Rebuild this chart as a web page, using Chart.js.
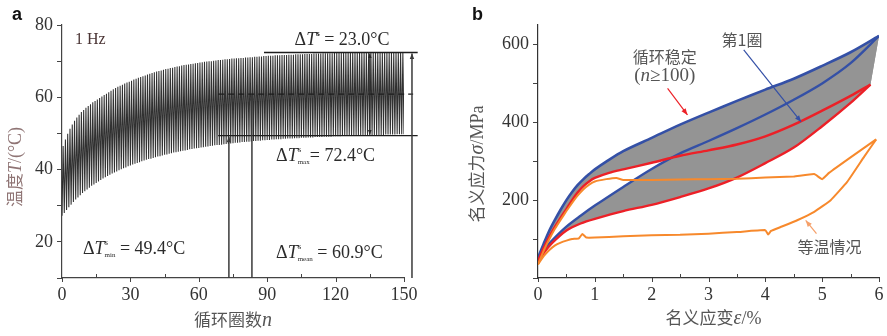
<!DOCTYPE html>
<html>
<head>
<meta charset="utf-8">
<script src="https://cdn.jsdelivr.net/npm/chart.js@4.4.1/dist/chart.umd.min.js"></script>
<style>
  body { margin: 0; background: #fff; width: 887px; height: 336px; position: relative; overflow: hidden; }
  #wrapA { position: absolute; left: 0; top: 0; width: 440px; height: 336px; }
  #wrapB { position: absolute; left: 440px; top: 0; width: 447px; height: 336px; }
</style>
</head>
<body>
<div id="wrapA"><canvas id="chartA" width="440" height="336"></canvas></div>
<div id="wrapB"><canvas id="chartB" width="447" height="336"></canvas></div>
<script>
const SERIF = '"Liberation Serif", "DejaVu Serif", serif';
const CJK = '"Noto Sans CJK SC", sans-serif';

// ---- panel a: temperature of each loading cycle (1 Hz) ----
// peak temperature reached in cycle n (n = 0..149)
const cycleTmax = [
  46.5, 48.3, 49.9, 51.3, 52.5, 53.5, 54.4, 55.2, 55.9, 56.5,
  57.1, 57.6, 58.1, 58.6, 59.0, 59.4, 59.8, 60.2, 60.6, 61.0,
  61.4, 61.8, 62.2, 62.6, 62.9, 63.2, 63.5, 63.8, 64.1, 64.3,
  64.6, 64.9, 65.1, 65.4, 65.6, 65.8, 66.0, 66.3, 66.5, 66.7,
  66.9, 67.1, 67.3, 67.4, 67.6, 67.8, 67.9, 68.1, 68.2, 68.4,
  68.5, 68.6, 68.8, 68.9, 69.0, 69.1, 69.2, 69.3, 69.4, 69.5,
  69.6, 69.7, 69.8, 69.9, 70.0, 70.0, 70.1, 70.2, 70.3, 70.3,
  70.4, 70.5, 70.5, 70.6, 70.7, 70.7, 70.8, 70.8, 70.9, 70.9,
  71.0, 71.0, 71.1, 71.1, 71.2, 71.2, 71.3, 71.3, 71.4, 71.4,
  71.5, 71.5, 71.5, 71.6, 71.6, 71.6, 71.7, 71.7, 71.7, 71.8,
  71.8, 71.8, 71.9, 71.9, 71.9, 71.9, 72.0, 72.0, 72.0, 72.0,
  72.1, 72.1, 72.1, 72.1, 72.2, 72.2, 72.2, 72.2, 72.2, 72.3,
  72.3, 72.3, 72.3, 72.3, 72.3, 72.3, 72.4, 72.4, 72.4, 72.4,
  72.4, 72.4, 72.4, 72.4, 72.4, 72.4, 72.4, 72.4, 72.4, 72.4,
  72.4, 72.4, 72.4, 72.4, 72.4, 72.4, 72.4, 72.4, 72.4, 72.4
];
// lowest temperature at the start of cycle n (n = 0..150)
const cycleTmin = [
  27.2, 28.0, 28.8, 29.6, 30.3, 31.0, 31.7, 32.3, 32.9, 33.5,
  34.0, 34.5, 35.0, 35.5, 35.9, 36.3, 36.7, 37.1, 37.5, 37.9,
  38.2, 38.6, 38.9, 39.2, 39.5, 39.8, 40.1, 40.4, 40.6, 40.9,
  41.1, 41.4, 41.6, 41.8, 42.0, 42.3, 42.5, 42.7, 42.9, 43.0,
  43.2, 43.4, 43.6, 43.7, 43.9, 44.1, 44.2, 44.4, 44.5, 44.7,
  44.8, 44.9, 45.1, 45.2, 45.3, 45.4, 45.6, 45.7, 45.8, 45.9,
  46.0, 46.1, 46.2, 46.3, 46.4, 46.5, 46.6, 46.7, 46.8, 46.8,
  46.9, 47.0, 47.1, 47.1, 47.2, 47.3, 47.4, 47.4, 47.5, 47.6,
  47.6, 47.7, 47.7, 47.8, 47.9, 47.9, 48.0, 48.0, 48.1, 48.1,
  48.2, 48.2, 48.3, 48.3, 48.4, 48.4, 48.4, 48.5, 48.5, 48.6,
  48.6, 48.6, 48.7, 48.7, 48.7, 48.8, 48.8, 48.8, 48.9, 48.9,
  48.9, 49.0, 49.0, 49.0, 49.0, 49.1, 49.1, 49.1, 49.1, 49.2,
  49.2, 49.2, 49.2, 49.3, 49.3, 49.3, 49.3, 49.4, 49.4, 49.4,
  49.4, 49.4, 49.5, 49.5, 49.5, 49.5, 49.5, 49.6, 49.6, 49.6,
  49.6, 49.6, 49.7, 49.7, 49.7, 49.7, 49.7, 49.8, 49.8, 49.8,
  49.8
];
const stableTmax = 72.4;
const stableTmin = 49.4;
const stableTmean = 60.9;
const stableSpan = 23.0;

// ---- panel b: nominal stress-strain loops ----
const blueLoadStrain   = [0, 0.1, 0.2, 0.3, 0.4, 0.5, 0.6, 0.7, 0.8, 0.9, 1.0, 1.2, 1.5, 2.0, 2.5, 3.0, 3.5, 4.0, 4.5, 5.0, 5.5, 6.0];
const blueLoadStress   = [52, 88, 122, 150, 176, 200, 221, 239, 254, 267, 279, 299, 326, 360, 394, 425, 455, 484, 512, 545, 580, 622];
const blueUnloadStrain = [6.0, 5.5, 5.0, 4.5, 4.0, 3.5, 3.0, 2.5, 2.0, 1.5, 1.0, 0.75, 0.5, 0.25, 0.1, 0];
const blueUnloadStress = [622, 552, 500, 458, 420, 385, 352, 320, 280, 234, 186, 160, 132, 97, 72, 47];

const redLoadStrain    = [0, 0.1, 0.25, 0.4, 0.5, 0.6, 0.7, 0.8, 0.9, 1.0, 1.25, 1.5, 2.0, 2.5, 3.0, 3.5, 4.0, 4.5, 5.0, 5.5, 5.85];
const redLoadStress    = [43, 78, 120, 155, 177, 200, 220, 236, 248, 257, 270, 279, 296, 314, 328, 343, 364, 394, 430, 468, 497];
const redUnloadStrain  = [5.85, 5.5, 5.0, 4.5, 4.0, 3.5, 3.0, 2.5, 2.0, 1.5, 1.0, 0.75, 0.5, 0.25, 0.1, 0];
const redUnloadStress  = [497, 450, 390, 335, 295, 258, 230, 208, 188, 172, 152, 140, 122, 90, 64, 39];

const isoLoadStrain    = [0, 0.1, 0.2, 0.3, 0.4, 0.5, 0.6, 0.7, 0.8, 0.9, 1.0, 1.2, 1.38, 1.5, 2.0, 2.5, 3.0, 3.5, 4.0, 4.5, 4.86, 5.0, 5.12, 5.5, 5.95];
const isoLoadStress    = [35, 70, 100, 127, 150, 172, 193, 212, 228, 240, 248, 254, 257, 252, 252, 253, 254, 255, 258, 261, 267, 254, 270, 310, 356];
const isoUnloadStrain  = [5.95, 5.74, 5.44, 5.15, 4.86, 4.57, 4.27, 4.1, 4.05, 4.0, 3.5, 3.0, 2.5, 2.0, 1.5, 1.0, 0.85, 0.78, 0.72, 0.6, 0.5, 0.4, 0.3, 0.2, 0.1, 0];
const isoUnloadStress  = [356, 312, 247, 200, 170, 149, 131, 121, 112, 123, 118, 114, 111, 110, 107, 104, 104, 113, 102, 100, 96, 91, 84, 72, 56, 35];

const BLUE = '#3450a6';
const RED = '#ec2027';
const ORANGE = '#f7892c';
const GRAY = '#949494';

const pairs = (xs, ys) => xs.map((x, i) => ({ x, y: ys[i] }));

// sawtooth of heating (loading) and cooling (unloading) per cycle
const tempPoints = [];
cycleTmax.forEach((hi, n) => {
  tempPoints.push({ x: n, y: cycleTmin[n] });
  tempPoints.push({ x: n + 0.5, y: hi });
});
tempPoints.push({ x: cycleTmax.length, y: cycleTmin[cycleTmax.length] });

// text with font changes, sub/superscripts
function richText(ctx, x, y, parts, align, color) {
  ctx.save();
  ctx.fillStyle = color;
  ctx.textAlign = 'left';
  ctx.textBaseline = 'alphabetic';
  let w = 0;
  for (const p of parts) {
    ctx.font = p.f;
    if (p.adv !== false) w += ctx.measureText(p.t).width;
  }
  let cx = align === 'center' ? x - w / 2 : x;
  for (const p of parts) {
    ctx.font = p.f;
    ctx.fillText(p.t, cx, y + (p.dy || 0));
    if (p.adv !== false) cx += ctx.measureText(p.t).width;
  }
  ctx.restore();
}

function arrowHead(ctx, x1, y1, x2, y2, size) {
  const a = Math.atan2(y2 - y1, x2 - x1);
  ctx.beginPath();
  ctx.moveTo(x2, y2);
  ctx.lineTo(x2 - size * Math.cos(a - 0.38), y2 - size * Math.sin(a - 0.38));
  ctx.lineTo(x2 - size * Math.cos(a + 0.38), y2 - size * Math.sin(a + 0.38));
  ctx.closePath();
  ctx.fill();
}

function arrow(ctx, x1, y1, x2, y2, color, width, size, both) {
  ctx.save();
  ctx.strokeStyle = color;
  ctx.fillStyle = color;
  ctx.lineWidth = width;
  ctx.beginPath();
  ctx.moveTo(x1, y1);
  ctx.lineTo(x2, y2);
  ctx.stroke();
  arrowHead(ctx, x1, y1, x2, y2, size);
  if (both) arrowHead(ctx, x2, y2, x1, y1, size);
  ctx.restore();
}

// short x ticks: labelled ones point down, the rest point into the plot
function xTicks(chart, every) {
  const { ctx, scales: { x }, chartArea } = chart;
  ctx.save();
  ctx.strokeStyle = '#444';
  ctx.lineWidth = 1;
  x.ticks.forEach(t => {
    const px = Math.round(x.getPixelForValue(t.value)) + 0.5;
    const major = Math.abs(t.value / every - Math.round(t.value / every)) < 1e-6;
    ctx.beginPath();
    ctx.moveTo(px, chartArea.bottom);
    ctx.lineTo(px, chartArea.bottom + (major ? 4 : -4));
    ctx.stroke();
  });
  ctx.restore();
}

const sym = size => ({ roman: size + 'px ' + SERIF, italic: 'italic ' + size + 'px ' + SERIF });
const s18 = sym(18);

function deltaT(sub, rest) {
  const parts = [
    { t: 'Δ', f: s18.roman },
    { t: 'T', f: s18.italic },
    { t: 's', f: '9px ' + SERIF, dy: -9, adv: false }
  ];
  if (sub) parts.push({ t: sub, f: '7px ' + SERIF, dy: 3 });
  else parts.push({ t: 's', f: '9px ' + SERIF, dy: -9 });
  parts.push({ t: rest, f: s18.roman });
  return parts;
}

const annotA = {
  id: 'annotA',
  afterDatasetsDraw(chart) {
    const { ctx, scales: { x, y } } = chart;
    const px = v => x.getPixelForValue(v);
    const py = v => y.getPixelForValue(v);
    const base = py(10);

    ctx.save();
    ctx.strokeStyle = '#1e1e1e';
    ctx.lineWidth = 1.4;
    ctx.beginPath();
    ctx.moveTo(px(88.6), py(stableTmax)); ctx.lineTo(px(156), py(stableTmax));
    ctx.moveTo(px(68.5), py(stableTmin)); ctx.lineTo(px(156), py(stableTmin));
    ctx.stroke();
    ctx.setLineDash([6, 4]);
    ctx.lineWidth = 1.3;
    ctx.beginPath();
    ctx.moveTo(px(68.5), py(stableTmean)); ctx.lineTo(px(154), py(stableTmean));
    ctx.stroke();
    ctx.restore();

    arrow(ctx, px(73.2), base, px(73.2), py(stableTmin) + 1, '#3a3a3a', 1.5, 6);
    arrow(ctx, px(83.3), base, px(83.3), py(stableTmean) + 1, '#3a3a3a', 1.5, 6);
    arrow(ctx, px(153.5), base, px(153.5), py(stableTmax) + 1, '#3a3a3a', 1.5, 6);
    arrow(ctx, px(135), py(stableTmin) - 1, px(135), py(stableTmax) + 1, '#2a2a2a', 1.2, 5, true);

    richText(ctx, px(102), py(74.5), deltaT(null, ' = ' + stableSpan.toFixed(1) + '°C'), 'left', '#2b2b2b');
    richText(ctx, px(93.9), py(42.4), deltaT('max', '= ' + stableTmax + '°C'), 'left', '#2b2b2b');
    richText(ctx, px(9.2), py(16.6), deltaT('min', ' = ' + stableTmin + '°C'), 'left', '#2b2b2b');
    richText(ctx, px(93.9), py(15.5), deltaT('mean', ' = ' + stableTmean + '°C'), 'left', '#2b2b2b');
    richText(ctx, px(5.7), py(74.7), [{ t: '1 Hz', f: '16px ' + SERIF }], 'left', '#4a3434');
  },
  afterDraw(chart) {
    const { ctx, chartArea } = chart;
    xTicks(chart, 30);
    richText(ctx, (chartArea.left + chartArea.right) / 2, 326,
      [{ t: '循环圈数', f: '17px ' + CJK }, { t: 'n', f: 'italic 20px ' + SERIF }], 'center', '#555');
    ctx.save();
    ctx.translate(21, 167);
    ctx.rotate(-Math.PI / 2);
    richText(ctx, 0, 0, [{ t: '温度', f: '17px ' + CJK }, { t: 'T', f: s18.italic }, { t: '/(°C)', f: s18.roman }], 'center', '#8f7474');
    ctx.restore();
    richText(ctx, 12, 20, [{ t: 'a', f: 'bold 18px "Liberation Sans", Arial, sans-serif' }], 'left', '#111');
  }
};

const bLabels = [
  { at: [3.59, 596], parts: [{ t: '第1圈', f: '16px ' + CJK }] },
  { at: [2.23, 552], parts: [{ t: '循环稳定', f: '16px ' + CJK }] },
  { at: [2.23, 506], parts: [{ t: '(', f: '19px ' + SERIF }, { t: 'n', f: 'italic 19px ' + SERIF }, { t: '≥100)', f: '19px ' + SERIF }] },
  { at: [5.13, 64], parts: [{ t: '等温情况', f: '16px ' + CJK }] }
];
const bArrows = [
  { from: [2.28, 487], to: [2.63, 419], color: RED },
  { from: [3.62, 586], to: [4.63, 401], color: BLUE },
  { from: [4.9, 114], to: [4.71, 148], color: '#f5a06a' }
];

const annotB = {
  id: 'annotB',
  afterDatasetsDraw(chart) {
    const { ctx, scales: { x, y } } = chart;
    bArrows.forEach(a => arrow(ctx, x.getPixelForValue(a.from[0]), y.getPixelForValue(a.from[1]),
      x.getPixelForValue(a.to[0]), y.getPixelForValue(a.to[1]), a.color, 1.2, 7));
    bLabels.forEach(l => richText(ctx, x.getPixelForValue(l.at[0]), y.getPixelForValue(l.at[1]), l.parts, 'center', '#555'));
  },
  afterDraw(chart) {
    const { ctx, chartArea } = chart;
    xTicks(chart, 1);
    richText(ctx, (chartArea.left + chartArea.right) / 2 + 5, 324,
      [{ t: '名义应变', f: '17px ' + CJK }, { t: 'ε', f: 'italic 20px ' + SERIF }, { t: '/%', f: s18.roman }], 'center', '#555');
    ctx.save();
    ctx.translate(43, 164);
    ctx.rotate(-Math.PI / 2);
    richText(ctx, 0, 0, [{ t: '名义应力', f: '17px ' + CJK }, { t: 'σ', f: 'italic 20px ' + SERIF }, { t: '/MPa', f: s18.roman }], 'center', '#555');
    ctx.restore();
    richText(ctx, 32, 20, [{ t: 'b', f: 'bold 18px "Liberation Sans", Arial, sans-serif' }], 'left', '#111');
  }
};

const tickFont = { family: SERIF, size: 18 };

new Chart(document.getElementById('chartA'), {
  type: 'scatter',
  data: {
    datasets: [{
      data: tempPoints,
      showLine: true,
      borderColor: 'rgba(20,20,20,0.88)',
      borderWidth: 1.05,
      pointRadius: 0,
      tension: 0
    }]
  },
  options: {
    responsive: false,
    animation: false,
    layout: { padding: { left: 0, top: 25, right: 36, bottom: 0 } },
    plugins: { legend: { display: false }, tooltip: { enabled: false } },
    scales: {
      x: {
        type: 'linear', min: 0, max: 150,
        afterFit: s => { s.height = 58; },
        grid: { display: false },
        border: { color: '#444', width: 1.2 },
        ticks: { stepSize: 15, padding: -2, color: '#333', font: tickFont, maxRotation: 0, autoSkip: false,
          callback: v => v % 30 === 0 ? v : '' }
      },
      y: {
        min: 10, max: 80,
        afterFit: s => { s.width = 62; },
        grid: { drawOnChartArea: false, tickLength: 5, color: '#444' },
        border: { color: '#444', width: 1.2 },
        ticks: { stepSize: 10, padding: 4, color: '#333', font: tickFont,
          callback: v => v % 20 === 0 && v > 0 ? v : '' }
      }
    }
  },
  plugins: [annotA]
});

const curve = (xs, ys, color, width, tension) => ({
  data: pairs(xs, ys), showLine: true, borderColor: color, borderWidth: width,
  pointRadius: 0, fill: false, tension
});
// grey bands swept by the intermediate cycles
const band = pts => ({
  data: pts, showLine: true, borderWidth: 0, borderColor: 'rgba(0,0,0,0)',
  backgroundColor: GRAY, pointRadius: 0, fill: 'shape', tension: 0
});

new Chart(document.getElementById('chartB'), {
  type: 'scatter',
  data: {
    datasets: [
      curve(isoLoadStrain, isoLoadStress, ORANGE, 2, 0.1),
      curve(isoUnloadStrain, isoUnloadStress, ORANGE, 2, 0.1),
      curve(redLoadStrain, redLoadStress, RED, 2.4, 0.3),
      curve(redUnloadStrain, redUnloadStress, RED, 2.4, 0.3),
      curve(blueLoadStrain, blueLoadStress, BLUE, 2.6, 0.3),
      curve(blueUnloadStrain, blueUnloadStress, BLUE, 2.4, 0.3),
      band(pairs(blueLoadStrain, blueLoadStress).concat(pairs(redLoadStrain, redLoadStress).reverse())),
      band(pairs(blueUnloadStrain, blueUnloadStress).concat(pairs(redUnloadStrain, redUnloadStress).reverse()))
    ]
  },
  options: {
    responsive: false,
    animation: false,
    layout: { padding: { left: 0, top: 25, right: 8, bottom: 0 } },
    plugins: { legend: { display: false }, tooltip: { enabled: false } },
    scales: {
      x: {
        type: 'linear', min: 0, max: 6,
        afterFit: s => { s.height = 58; },
        grid: { display: false },
        border: { color: '#333', width: 1.2 },
        ticks: { stepSize: 0.5, padding: -2, color: '#333', font: tickFont, maxRotation: 0, autoSkip: false,
          callback: v => Number.isInteger(v) ? v : '' }
      },
      y: {
        min: 0, max: 650,
        afterFit: s => { s.width = 98; },
        grid: { drawOnChartArea: false, tickLength: 5, color: '#444' },
        border: { color: '#333', width: 1.2 },
        ticks: { stepSize: 100, includeBounds: false, padding: 4, color: '#333', font: tickFont,
          callback: v => v % 200 === 0 && v > 0 ? v : '' }
      }
    }
  },
  plugins: [annotB]
});
</script>
</body>
</html>
